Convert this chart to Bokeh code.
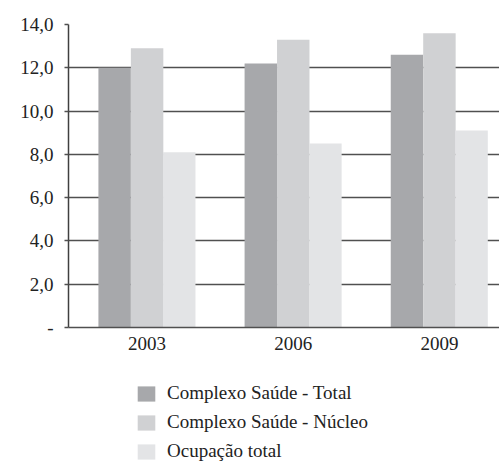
from bokeh.plotting import figure
from bokeh.layouts import column
from bokeh.models import ColumnDataSource, Range1d, FixedTicker, Legend, LegendItem
from bokeh.transform import dodge
from bokeh.embed import file_html
from bokeh.resources import INLINE

years = ["2003", "2006", "2009"]
total = [12.0, 12.2, 12.6]
nucleo = [12.9, 13.3, 13.6]
ocupacao = [8.1, 8.5, 9.1]
series_names = ["Complexo Saúde - Total", "Complexo Saúde - Núcleo", "Ocupação total"]
colors = ["#a7a8ab", "#d0d1d3", "#e3e4e6"]
y_ticks = [0, 2, 4, 6, 8, 10, 12, 14]
y_labels = ["-", "2,0", "4,0", "6,0", "8,0", "10,0", "12,0", "14,0"]

xpos = [i + 0.5 for i in range(len(years))]
src = ColumnDataSource(dict(x=xpos, total=total, nucleo=nucleo, ocupacao=ocupacao))
cols = ["total", "nucleo", "ocupacao"]
offsets = [-0.222, 0.0, 0.22]

FONT = "'Liberation Serif', serif"
p = figure(width=499, height=370, output_backend="svg", toolbar_location=None,
           x_range=Range1d(-0.0377, 2.911), y_range=Range1d(0, 14),
           min_border_left=68, min_border_top=24, min_border_right=0, min_border_bottom=43)
p.outline_line_color = None

bw = 0.222
for c, off, col in zip(cols, offsets, colors):
    p.vbar(x=dodge("x", off, range=p.x_range), top=c, width=bw, source=src,
           fill_color=col, line_color=None)

p.xgrid.grid_line_color = None
p.ygrid.grid_line_color = "#505050"
p.ygrid.grid_line_width = 1.5
p.ygrid.ticker = FixedTicker(ticks=y_ticks)

p.yaxis.ticker = FixedTicker(ticks=y_ticks)
p.yaxis.major_label_overrides = {t: l for t, l in zip(y_ticks, y_labels)}
p.yaxis.minor_tick_line_color = None
p.yaxis.major_tick_in = 0
p.yaxis.major_tick_out = 4
p.yaxis.major_tick_line_color = "#505050"
p.yaxis.major_tick_line_width = 1.5
p.yaxis.axis_line_color = "#404040"
p.yaxis.axis_line_width = 1.5
p.yaxis.major_label_standoff = 11
p.yaxis.major_label_text_font = FONT
p.yaxis.major_label_text_font_size = "19px"
p.yaxis.major_label_text_color = "#222222"

p.xaxis.ticker = FixedTicker(ticks=xpos)
p.xaxis.major_label_overrides = {x: y for x, y in zip(xpos, years)}
p.xaxis.minor_tick_line_color = None
p.xaxis.major_tick_in = 0
p.xaxis.major_tick_out = 0
p.xaxis.axis_line_color = "#505050"
p.xaxis.axis_line_width = 1.5
p.xaxis.major_label_standoff = 9
p.xaxis.major_label_text_font = FONT
p.xaxis.major_label_text_font_size = "19px"
p.xaxis.major_label_text_color = "#222222"

# legend panel
pl = figure(width=499, height=94, output_backend="svg", toolbar_location=None,
            x_range=Range1d(0, 1), y_range=Range1d(0, 1),
            x_axis_location=None, y_axis_location=None,
            min_border=0)
pl.outline_line_color = None
pl.grid.grid_line_color = None
lr = []
for c, col in zip(cols, colors):
    r = pl.vbar(x="x", top=c, width=0.1, source=src, fill_color=col, line_color=None)
    r.visible = False
    lr.append(r)

legend = Legend(items=[LegendItem(label=n, renderers=[r]) for n, r in zip(series_names, lr)],
                location=(67, 2), orientation="vertical",
                glyph_width=22, glyph_height=19, label_height=19, spacing=7,
                label_standoff=10, padding=0, margin=0,
                border_line_color=None, background_fill_alpha=0,
                inactive_fill_alpha=0, click_policy="none",
                label_text_font=FONT, label_text_font_size="19px", label_text_color="#222222")
pl.add_layout(legend, "center")

layout = column(p, pl, spacing=0)
open("out.html", "w").write(file_html(layout, INLINE))
